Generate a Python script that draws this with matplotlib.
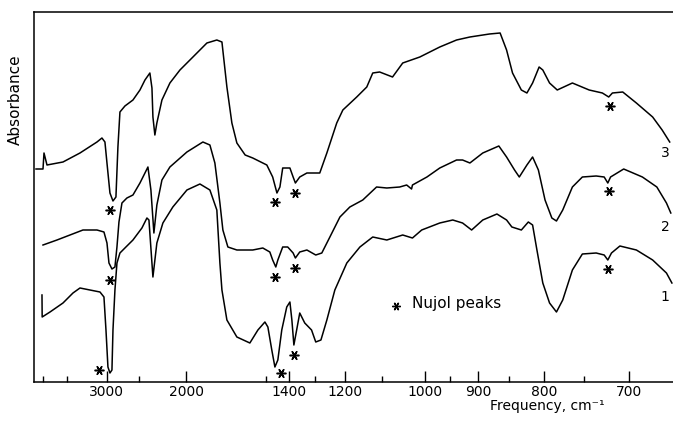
import numpy as np
import matplotlib
matplotlib.use('Agg')
import matplotlib.pyplot as plt
from matplotlib.ticker import FixedLocator, NullFormatter

# IR spectra (Nujol mulls), absorbance in arbitrary units
nu_3 = [5414, 5016, 4964, 4814, 4145, 3612, 3200, 3097, 3038, 2999, 2944, 2890, 2839, 2806,
        2773, 2695, 2578, 2484, 2421, 2362, 2338, 2327, 2305, 2283, 2229, 2149, 2056, 1947,
        1842, 1774, 1741, 1710, 1680, 1651, 1605, 1565, 1496, 1469, 1450, 1437, 1425, 1395,
        1382, 1373, 1356, 1329, 1283, 1259, 1227, 1208, 1167, 1139, 1123, 1105, 1073, 1049,
        1011, 970, 938, 914, 881, 864, 854, 845, 832, 824, 816, 807, 802, 793, 783, 764,
        744, 729, 722, 718, 707, 693, 677, 668, 661]
abs_3 = [213, 213, 229, 217, 220, 229, 240, 244, 240, 219, 189, 181, 185, 235,
         270, 276, 282, 292, 302, 309, 294, 265, 247, 259, 282, 299, 312, 325,
         339, 342, 340, 295, 259, 239, 227, 224, 217, 205, 189, 195, 214, 214,
         205, 199, 205, 209, 209, 229, 259, 272, 285, 295, 309, 310, 305, 319,
         325, 335, 342, 345, 348, 349, 332, 309, 292, 289, 299, 315, 312, 299, 292, 299,
         292, 289, 285, 289, 290, 279, 265, 252, 240]

nu_2 = [5016, 4373, 3908, 3532, 3200, 3057, 2999, 2962, 2908, 2856, 2822, 2789, 2741, 2665,
        2578, 2484, 2421, 2385, 2350, 2316, 2283, 2229, 2149, 1996, 1871, 1821, 1787, 1754,
        1735, 1704, 1651, 1565, 1515, 1482, 1469, 1455, 1446, 1425, 1404, 1382, 1373, 1356,
        1329, 1297, 1276, 1249, 1217, 1187, 1150, 1113, 1087, 1056, 1040, 1029, 1027, 996,
        970, 938, 927, 914, 892, 866, 854, 842, 835, 824, 816, 808, 799, 790, 784, 776,
        764, 752, 736, 727, 723, 720, 706, 687, 673, 664, 660]
abs_2 = [137, 142, 147, 152, 152, 150, 139, 119, 113, 115, 135, 160, 179, 184,
         187, 199, 209, 215, 192, 149, 177, 202, 215, 230, 240, 237, 219, 179,
         152, 135, 132, 132, 134, 130, 122, 115, 122, 135, 135, 129, 124, 130,
         132, 127, 129, 145, 165, 175, 182, 195, 194, 195, 197, 193, 197, 205,
         214, 222, 222, 219, 229, 236, 225, 212, 205, 217, 225, 212, 182, 164, 161, 172,
         195, 205, 206, 205, 199, 205, 213, 205, 195, 179, 169]

nu_1 = [5070, 5060, 4672, 4145, 3814, 3612, 3358, 3137, 3057, 3018, 2981, 2944, 2908, 2890,
        2856, 2822, 2773, 2695, 2578, 2459, 2397, 2373, 2327, 2283, 2219, 2121, 1996, 1893,
        1821, 1774, 1754, 1741, 1710, 1651, 1580, 1539, 1505, 1491, 1473, 1459, 1446, 1429,
        1408, 1395, 1387, 1379, 1368, 1356, 1337, 1312, 1297, 1279, 1259, 1233, 1196, 1158,
        1123, 1087, 1049, 1027, 1007, 970, 945, 927, 911, 892, 869, 854, 846, 832, 822,
        816, 810, 802, 793, 784, 776, 764, 752, 736, 727, 723, 719, 710, 693, 677, 664, 659]
abs_1 = [87, 65, 70, 79, 89, 94, 92, 90, 85, 52, 15, 9, 12, 52,
         92, 119, 129, 134, 142, 154, 164, 162, 105, 139, 159, 175, 192, 198,
         192, 172, 119, 92, 62, 45, 39, 52, 60, 55, 32, 15, 22, 52,
         75, 80, 62, 37, 52, 69, 59, 52, 40, 42, 62, 92, 119, 135,
         145, 142, 147, 144, 152, 159, 162, 159, 152, 162, 168, 162, 155, 152, 160,
         157, 132, 99, 79, 70, 82, 112, 128, 129, 127, 122, 129, 136, 132, 122, 109, 99]

# Nujol peak markers (wavenumber, height)
nujol_nu = [2944, 1459, 1375, 721, 2944, 1459, 1373, 722, 3158, 1433, 1379, 723]
nujol_abs = [172, 180, 189, 276, 102, 105, 114, 191, 12, 9, 27, 113]

major_ticks = [3000, 2000, 1400, 1200, 1000, 900, 800, 700]
minor_ticks = [5000, 4000, 2500, 1500, 1300, 1100, 950, 850, 750]
curve_labels = ['1', '2', '3']
label_abs = [85, 155, 229]

star = (6, 2, 90)

fig = plt.figure(figsize=(6.73, 4.24), dpi=100)
ax = fig.add_axes([34 / 673, 1 - 382 / 424, 639 / 673, 370 / 424])


# x axis is linear in wavelength (1/wavenumber)
def fwd(v):
    v = np.asarray(v, dtype=float)
    with np.errstate(divide='ignore', invalid='ignore'):
        return -1e4 / v


def inv(w):
    w = np.asarray(w, dtype=float)
    with np.errstate(divide='ignore', invalid='ignore'):
        return -1e4 / w


ax.set_xscale('function', functions=(fwd, inv))

for nu, a in [(nu_1, abs_1), (nu_2, abs_2), (nu_3, abs_3)]:
    ax.plot(nu, a, color='black', lw=1.1, solid_joinstyle='round')

ax.plot(nujol_nu, nujol_abs, ls='none', marker=star, ms=7, mew=1.1, color='black')

for lab, a in zip(curve_labels, label_abs):
    ax.text(665, a, lab, fontsize=10, ha='center', va='center')

# legend
ax.plot([0.5665], [0.205], transform=ax.transAxes, ls='none', marker=star, ms=6,
        mew=1.0, color='black', clip_on=False)
ax.text(0.5915, 0.212, 'Nujol peaks', transform=ax.transAxes, fontsize=11,
        ha='left', va='center')

ax.set_xlim(5540, 658)
ax.set_ylim(0, 370)

ax.xaxis.set_major_locator(FixedLocator(major_ticks))
ax.xaxis.set_minor_locator(FixedLocator(minor_ticks))
ax.xaxis.set_minor_formatter(NullFormatter())
ax.set_xticklabels([str(t) for t in major_ticks])
ax.tick_params(axis='x', which='major', direction='in', length=8, width=1, pad=2, labelsize=10)
ax.tick_params(axis='x', which='minor', direction='in', length=4, width=1)
ax.set_yticks([])

ax.spines['right'].set_visible(False)
for s in ['left', 'top', 'bottom']:
    ax.spines[s].set_linewidth(1.1)

ax.set_xlabel('Frequency, cm\u207b\u00b9', fontsize=10)
ax.xaxis.set_label_coords(0.804, -0.047)

fig.text(15 / 673, 1 - 100 / 424, 'Absorbance', rotation=90, ha='center', va='center',
         fontsize=11)

plt.savefig('out.png', dpi=100)
